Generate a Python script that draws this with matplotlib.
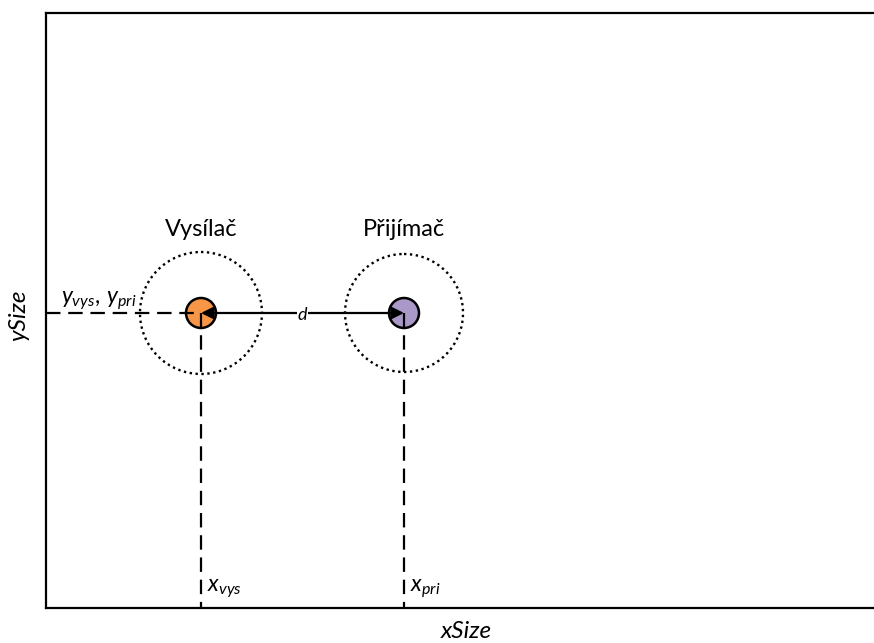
import matplotlib
matplotlib.use("Agg")
from matplotlib import pyplot as plt
from matplotlib.patches import Circle

plt.rcParams['font.family'] = ['Lato', 'DejaVu Sans']
plt.rcParams['mathtext.fontset'] = 'custom'
plt.rcParams['mathtext.it'] = 'Lato:italic'
plt.rcParams['mathtext.rm'] = 'Lato'

# scene in pixel-like units (origin top-left of the area)
xSize = 828
ySize = 595
names = ["Vysílač", "Přijímač"]
nodeX = [155, 358]
nodeY = [300, 300]
rangeR = [61, 59]
nodeR = 15
nodeColors = ["#F79646", "#A998C8"]
xLabels = [r"$x_{vys}$", r"$x_{pri}$"]
yLabel = r"$y_{vys},\,y_{pri}$"

fig = plt.figure(figsize=(8.74, 6.43), dpi=100)
ax = fig.add_axes([46 / 874, 35 / 643, 828 / 874, 595 / 643])
ax.set_xlim(0, xSize)
ax.set_ylim(ySize, 0)
ax.set_xticks([])
ax.set_yticks([])
ax.spines['right'].set_visible(False)
for s in ['left', 'top', 'bottom']:
    ax.spines[s].set_linewidth(1.6)

dash = (0, (6.5, 3.5))
for i in range(2):
    ax.add_patch(Circle((nodeX[i], nodeY[i]), rangeR[i], fill=False, ec='black',
                        lw=1.7, ls=(0, (1, 1.5)), zorder=2))
    ax.add_patch(Circle((nodeX[i], nodeY[i]), nodeR, fc=nodeColors[i], ec='black',
                        lw=1.8, zorder=3))
    ax.plot([nodeX[i], nodeX[i]], [nodeY[i], ySize], color='black', lw=1.6,
            ls=dash, zorder=4)
    ax.text(nodeX[i], nodeY[i] - 83, names[i], ha='center', va='center',
            fontsize=17)
    ax.text(nodeX[i] + 6, ySize - 19, xLabels[i], ha='left', va='center',
            fontsize=16.5)

ax.plot([0, nodeX[0]], [nodeY[0], nodeY[0]], color='black', lw=1.6, ls=dash, zorder=4)
ax.text(15, nodeY[0] - 12, yLabel, ha='left', va='center', fontsize=16.5)

ax.annotate("", xy=(nodeX[0], nodeY[0]), xytext=(nodeX[1], nodeY[1]),
            arrowprops=dict(arrowstyle='<|-|>', color='black', lw=1.6,
                            shrinkA=0, shrinkB=0, mutation_scale=18), zorder=5)
ax.text((nodeX[0] + nodeX[1]) / 2, nodeY[0] + 2, "d", ha='center', va='center',
        fontsize=13, style='italic', zorder=6,
        bbox=dict(fc='white', ec='none', pad=0.5))

fig.text(466 / 874, 1 - 632 / 643, "xSize", ha='center', va='center',
         fontsize=17.5, style='italic')
fig.text(19 / 874, 1 - 315 / 643, "ySize", ha='center', va='center',
         fontsize=17.5, style='italic', rotation=90)

fig.savefig("out.png", dpi=100)
